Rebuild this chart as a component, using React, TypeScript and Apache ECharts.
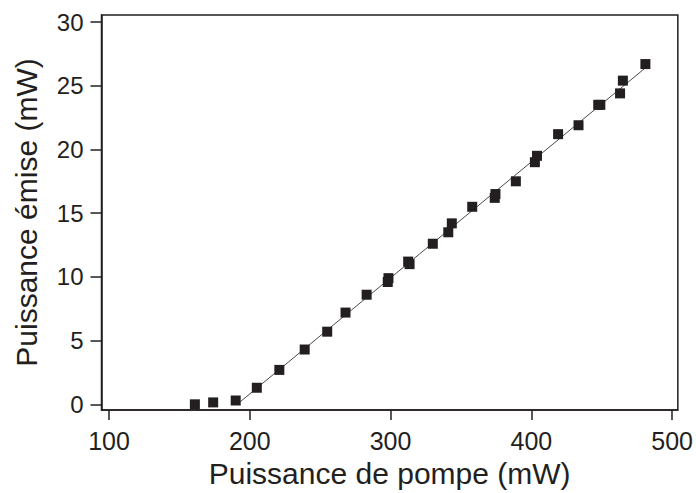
import React, { useEffect, useRef } from "react";
import * as echarts from "echarts";

const pumpPower = [161, 174, 190, 205, 221, 239, 255, 268, 283, 298, 298.5, 312.5, 313.5, 330, 341, 343.5, 358, 374, 374.5, 389, 402.5, 404, 419, 433.5, 447.5, 449, 463, 465, 481];
const emittedPower = [0, 0.15, 0.3, 1.3, 2.7, 4.3, 5.7, 7.2, 8.6, 9.6, 9.9, 11.2, 11.0, 12.6, 13.5, 14.2, 15.5, 16.2, 16.5, 17.5, 19.0, 19.5, 21.2, 21.9, 23.5, 23.5, 24.4, 25.4, 26.7];
const fitX = [191, 481];
const fitY = [0, 26.4];
const xTicks = [100, 200, 300, 400, 500];
const yTicks = [0, 5, 10, 15, 20, 25, 30];

const ink = "#231f20";
const font = "'Liberation Sans', Arial, Helvetica, sans-serif";

export default function App() {
  const ref = useRef<HTMLDivElement>(null);
  useEffect(() => {
    if (!ref.current) return;
    const chart = echarts.init(ref.current, undefined, { renderer: "svg" });
    chart.setOption({
      animation: false,
      backgroundColor: "#ffffff",
      grid: {
        left: 101.5,
        top: 15,
        right: 17,
        bottom: 82.3,
        show: true,
        borderColor: ink,
        borderWidth: 1.5,
        backgroundColor: "transparent",
      },
      xAxis: {
        type: "value",
        min: 94.68,
        max: 504.04,
        name: "Puissance de pompe (mW)",
        nameLocation: "middle",
        nameGap: 48,
        nameTextStyle: { fontSize: 30, color: ink, fontFamily: font },
        axisLine: { show: true, onZero: false, lineStyle: { color: ink, width: 1.5 } },
        axisTick: { show: true, length: 10, inside: false, customValues: xTicks, lineStyle: { color: ink, width: 1.5 } },
        axisLabel: { show: true, customValues: xTicks, margin: 18, fontSize: 25, color: ink, fontFamily: font },
        splitLine: { show: false },
      },
      yAxis: {
        type: "value",
        min: -0.446,
        max: 30.55,
        name: "Puissance émise (mW)",
        nameLocation: "middle",
        nameGap: 60,
        nameTextStyle: { fontSize: 30, color: ink, fontFamily: font },
        axisLine: { show: true, onZero: false, lineStyle: { color: ink, width: 1.5 } },
        axisTick: { show: true, length: 11, inside: false, customValues: yTicks, lineStyle: { color: ink, width: 1.5 } },
        axisLabel: { show: true, customValues: yTicks, margin: 18, fontSize: 24, color: ink, fontFamily: font },
        splitLine: { show: false },
      },
      series: [
        {
          type: "line",
          data: fitX.map((x, i) => [x, fitY[i]]),
          showSymbol: false,
          symbol: "none",
          lineStyle: { color: "#4a4a4a", width: 1 },
          z: 2,
        },
        {
          type: "scatter",
          data: pumpPower.map((x, i) => [x, emittedPower[i]]),
          symbol: "rect",
          symbolSize: 10,
          itemStyle: { color: ink, opacity: 1 },
          z: 3,
        },
      ],
    });
    return () => chart.dispose();
  }, []);
  return <div ref={ref} style={{ width: 696, height: 493, position: "absolute", left: 0, top: 0 }} />;
}
